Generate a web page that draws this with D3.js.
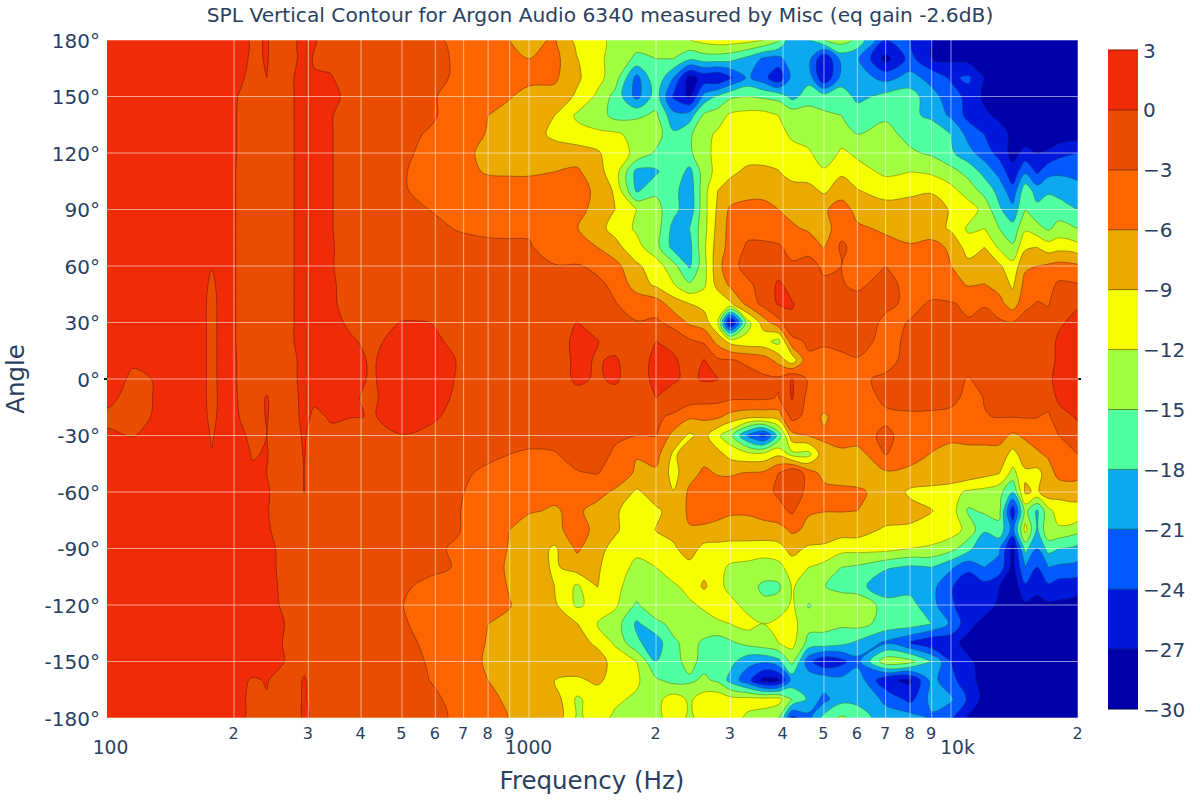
<!DOCTYPE html>
<html><head><meta charset="utf-8">
<script src="https://cdn.jsdelivr.net/npm/d3@7"></script>
<style>html,body{margin:0;background:#fff}svg{display:block}text{font-family:"DejaVu Sans",Verdana,sans-serif;fill:#2a3f5f}</style>
</head><body><div id="chart"></div>
<script>
const chartTitle = "SPL Vertical Contour for Argon Audio 6340 measured by Misc (eq gain -2.6dB)";
const xTitle = "Frequency (Hz)";
const yTitle = "Angle";
const frequencies = [100,115,130,160,177,190,204,221,239,258,280,293,310,340,380,434,500,580,680,800,900,1000,
  1150,1300,1450,1600,1800,2000,2200,2400,2600,2800,3000,3300,3600,3900,4200,4600,5000,5500,6000,7000,8000,9000,10000,11000,12000,13000,14000,15000,16000,17000,18000,20000];
const angles = [180,170,160,150,140,130,120,110,100,90,80,70,60,50,40,30,20,10,0,-10,-20,-30,-40,-50,-60,-70,-80,-90,-100,-110,-120,-130,-140,-150,-160,-170,-180];
const yTicks = [180,150,120,90,60,30,0,-30,-60,-90,-120,-150,-180];
const xMajorTicks = [100,1000,10000];
const xMinorTicks = [200,300,400,500,600,700,800,900,2000,3000,4000,5000,6000,7000,8000,9000,20000];
const levels = [-30,-27,-24,-21,-18,-15,-12,-9,-6,-3,0,3];
const bandColors = ["#0000aa","#0018dc","#005aff","#0ca8f0","#50ffa0","#a0ff40","#f5ff00","#ebaa00","#fd6500","#e94e00","#f02c08"];
// one row per angle (180 down to -180), one value per frequency
const spl = [
[2,2,2,2,2,1.5,0.8,-0.3,0.1,-0.8,-0.1,0.4,0.1,-0.6,-1,-1.5,-1.8,-2.5,-3.5,-4.5,-6,-6.5, -5.8,-10,-11,-13,-14,-14,-12.5,-12,-11,-10.5,-10.5,-11,-12,-14.5,-21,-18,-15,-13.5,-16,-24,-24,-27,-27.5,-28,-29,-29,-29,-29,-29,-29,-29,-29],
[2,2,2,2,2,1.5,0.7,-0.3,0.1,-0.8,-0.1,0.4,-0.1,-0.4,-1,-1.5,-1.8,-2.3,-3.3,-4.5,-5.2,-6, -5,-8.9,-11,-13.5,-15.5,-15,-15,-17.5,-16.5,-16.5,-17,-19,-21.5,-22,-19,-20,-27,-20,-20.5,-28,-23,-27,-27.5,-28,-29,-29,-29,-29,-29,-29,-29,-29],
[2,2,2,2,2,1.5,0.5,-0.6,0,-0.8,0.1,0.5,0.1,0.1,-1,-1.5,-2,-2.4,-3.3,-4.3,-5,-5.2, -5.5,-8.5,-11,-13.5,-22,-15.5,-21,-28,-26,-27,-24.5,-20.5,-23,-26.5,-20,-19,-27,-20,-19.5,-22,-20,-22,-24.5,-23.5,-27,-28,-29,-29,-29,-29,-29,-29],
[2,2,2,2,2,1.2,0,-0.8,-1,-0.8,0.1,0.6,0.5,0.4,-0.5,-1.5,-2,-2.8,-3.5,-4.5,-5.8,-7, -7,-9.5,-12.5,-16,-22,-16.5,-24.5,-27.5,-20,-17.5,-15.5,-15,-15.5,-16,-19,-16.5,-16.5,-16,-19,-17,-16.5,-20,-22.5,-25,-27.5,-29,-29,-29,-29,-29,-29,-29],
[2,2,2,2,2,1.2,-0.1,-1,-1.1,-0.9,0.1,0.5,0.5,0.1,-0.9,-1.5,-2,-2.6,-4,-6,-7,-7.5, -9,-12.5,-13.5,-16,-15.5,-14.5,-20,-19.5,-14.5,-13.5,-11.5,-11,-11,-12,-13,-13.5,-14.5,-15,-16,-15.5,-17,-19,-21.5,-25,-26.5,-27.5,-29,-29,-29,-29,-29,-29],
[2,2,2,2,2,1.2,-0.1,-1,-1.1,-0.9,0.1,0.5,0.5,0.1,-1,-1.7,-2.4,-3.2,-4.5,-6.2,-7.5,-8, -9.5,-11,-11.5,-11.5,-13,-13.5,-17.5,-15.5,-13,-11.5,-10.5,-10,-10,-11,-12.5,-13.5,-15,-13.5,-15,-14,-16,-15,-18,-22,-24,-26,-27.5,-29,-29,-29,-29,-29],
[2,2,2,2,2,1.2,-0.1,-1,-1.1,-0.9,0.1,0.5,0.3,0.1,-1,-1.8,-2.6,-3.5,-5,-6.8,-7.5,-8, -8,-7.5,-8.5,-11,-12.5,-15.5,-16.5,-15.5,-13,-11,-10,-10,-10,-10,-11,-11.5,-14,-11.5,-12.5,-13,-14.5,-15.5,-17.5,-20,-22.5,-25,-28,-26,-27,-26.5,-25,-24],
[2,2,2,2,2,1.2,-0.2,-1,-1,-0.9,0.1,0.5,0.4,0.1,-1,-1.9,-2.8,-3.8,-5.3,-6.2,-6.3,-6.3, -6,-5.5,-8,-10.5,-19,-18.5,-15.5,-19,-13.5,-11,-9.5,-8.5,-8.5,-8.9,-10,-10.5,-11.5,-9.5,-11,-12.5,-12,-12.5,-14,-16,-19,-22,-26,-21.5,-24.5,-22,-21.5,-22],
[2,2,2,2,2,1.2,-0.2,-1,-1,-0.9,0.1,0.5,0.3,0.1,-1,-1.9,-2.8,-3.6,-4.5,-5,-5,-5, -5,-5,-6.5,-9.5,-18.5,-15.5,-17,-20,-13,-9,-8,-7.5,-7,-7.5,-8,-8,-9.5,-7.5,-8.8,-10.5,-10,-9.5,-11,-13.5,-16,-19,-23,-16,-19.5,-18.5,-19,-20],
[2,2,2,2,2,1.2,-0.2,-0.9,-1,-0.9,0.1,0.5,0.3,0.1,-1,-1.8,-2.5,-3,-4,-4.2,-4.3,-4.2, -5,-5,-7,-9,-12,-14,-17,-20,-13,-8.5,-5.5,-4.5,-5,-6,-7,-7.5,-6.5,-4.5,-7,-7.5,-7,-6.5,-9.5,-10.5,-13,-17.5,-20,-15,-17,-16,-16.5,-18],
[2,2,2,2,2,1.2,-0.2,-1,-1,-0.9,0.1,0.4,0.3,0.1,-1,-1.6,-2.2,-2.6,-3.1,-3.5,-3.6,-3.6, -5,-5.9,-8,-10,-12.5,-13.5,-19,-18,-13,-8,-5,-4,-4,-4,-5.5,-6.5,-7.5,-4,-5.5,-6.5,-8,-7.5,-9.5,-12.5,-12,-15,-17,-12.5,-14,-15.5,-14,-15],
[2,2,2,2,1,1.2,-0.2,-1,-1,-0.9,0.1,0.4,0.3,0.15,-0.8,-1.4,-2,-2.2,-2.5,-2.5,-2.5,-2.6, -5,-5,-6,-8,-11,-14,-19,-19,-12.5,-7.5,-5,-2.5,-2.5,-2.8,-3.5,-4,-6.2,-2.5,-4,-5,-5.5,-5,-6.5,-10.5,-9,-12.5,-14.5,-9.5,-9,-10.5,-10,-11],
[2,2,2,2,0.1,1.2,-0.2,-0.9,-1,-0.9,0.1,0.5,0.4,0.1,-0.7,-1.2,-1.7,-2,-2.2,-2.3,-2.3,-2.4, -2.8,-2.8,-3.5,-5,-8.5,-10.5,-14,-18.5,-13,-7,-4,-2,-1.5,-1.5,-2.8,-2,-3.5,-3,-3.2,-3,-4.5,-5,-6,-8,-8,-8.5,-11,-6.5,-6,-5.5,-5,-5.5],
[2,2,2,2,-0.5,1.2,-0.2,-0.8,-0.9,-0.8,0.1,0.5,0.4,0.2,-0.6,-1,-1.4,-1.7,-2,-2.1,-2.1,-2.2, -1.5,-2,-2.5,-3.5,-7.5,-9.5,-11.8,-14.5,-12.5,-8,-5.5,-3.5,-2,0.5,-1,-2,-2.5,-2.8,-3.5,-2,-4,-3.8,-5,-6.2,-5.9,-7,-9.5,-5,-4.5,-4,-2.5,-2.8],
[2,2,2,2,-0.8,1.2,-0.2,-0.7,-0.8,-0.8,0.1,0.5,0.5,0.2,-0.5,-0.8,-1.2,-1.5,-1.8,-1.9,-1.9,-2, -2,-1.5,-2,-2.9,-4,-4.5,-7.5,-9,-10,-11.5,-9.5,-5,-2,0.3,0.2,-1.5,-2,-2,-2,-2.5,-3.5,-2.8,-2.8,-3.5,-3.2,-5,-7.5,-4,-2.8,-3.2,-1.5,-0.5],
[2,2,2,2,-0.8,1.2,-0.2,-0.7,-0.8,-0.8,0.1,0.5,0.5,0.3,-0.2,-0.7,0.1,0.05,-1.2,-1.6,-1.8,-1.9, -1,0.05,-1,-2,-2.9,-2.5,-4,-6.5,-7.5,-12,-29,-13,-7.5,-4,-0.5,-1.5,-1.5,-1.8,-1.5,-3.5,-2.9,-2,-2,-2.8,-2.2,-2.5,-2.9,-1.5,-1.5,-2,-0.5,1],
[2,2,2,2,-0.8,1.2,-0.2,-0.7,-0.8,-0.8,0.1,0.5,0.5,0.3,0.1,-0.3,0.8,0.8,-0.8,-1.5,-1.7,-1.8, -1,0.5,0.1,-1,-2,0,-1,-2.5,-3.5,-7,-10,-11,-11,-13,-4,-2.5,-2.8,-2,-2,-3.8,-2.5,-2,-2,-2.9,-1.8,-1.5,-1.2,-1,-1.2,-1.2,0.5,1.5],
[2,0.4,1.5,2,-0.8,1.2,-0.1,-0.7,-0.8,-0.8,-0.1,0.5,0.4,0.3,0.03,-0.02,1,1,-0.1,-1.5,-1.6,-1.7, -1.5,0.6,-0.2,0.3,-1.5,0.8,0.5,-1.5,0.1,-2.5,-2.8,-3.5,-4.5,-7,-11,-3.5,-3.5,-3.8,-3.2,-4,-2,-1.8,-1.8,-1.8,-1.5,-1.2,-1.2,-1.2,-1.2,-1,0.5,2],
[1.5,-0.5,0.1,2,-0.8,1.2,-0.1,-0.7,-0.6,-0.8,-0.1,0.5,0.3,0.3,0.03,-0.02,1.2,1.2,-0.2,-1.6,-1.6,-1.7, -1.5,0.5,-0.3,0.4,-1.5,0.8,0.3,-0.5,0.3,0.1,-1.5,-2,-2.5,-2.5,0.2,-3.5,-3.5,-4,-3.5,-2.5,-2,-2.9,-2,-3.2,-1.8,-1.5,-1.3,-1.2,-1.2,-1,1.5,2.5],
[0.6,-0.8,0.1,2,-0.8,1,0,-0.8,0.1,-0.8,-0.2,0.4,0.2,0.2,0.05,-0.1,1,1,-0.4,-1.6,-1.7,-1.7, -1.5,-1,0,-1,-1.8,0,-1,-1.5,-1.8,-2,-2.5,-2.5,-2.5,-3.2,0.2,-4,-4,-4,-4.3,-2.5,-1.8,-2,-2,-4,-2.9,-1.8,-1.5,-1.3,-1.5,-1.5,0.5,1.5],
[-0.5,-0.8,0.2,2,-0.6,1,0.1,-0.8,0.1,-0.8,-0.2,0.3,-0.2,0.1,0.02,-0.02,0.8,0.5,-0.8,-1.7,-1.8,-1.8, -1.5,-2,-2,-2,-2.2,-2.5,-3.5,-5.5,-5.5,-5.5,-7,-8,-8,-7.5,-2,-4,-6.5,-4.5,-4,-3.5,-3.5,-3.5,-4,-4.5,-3.1,-2.9,-2.9,-2.8,-2.9,-3.5,-1,0.3],
[0.3,-0.1,0.6,2,-0.2,1,0.5,-0.4,0,-0.8,-0.2,0.1,-0.4,-0.2,-0.4,-0.6,-0.05,-0.6,-1.5,-2,-2.1,-2, -2,-2.2,-2.5,-2.8,-3,-2.9,-7,-9.5,-8,-11.5,-14,-21.5,-25,-17,-7,-5.9,-5.5,-4,-4,-2.5,-4,-4.5,-5,-5,-5.5,-5,-6.5,-5.5,-4.5,-5.5,-3,-1],
[2,2,2,2,0.1,1.2,0.8,-0.1,0.1,-0.9,-0.6,0.1,-0.8,-1,-1.2,-1.5,-1.7,-1.9,-2.4,-2.7,-3,-3.4, -3.2,-2,-2.5,-3.2,-5.8,-5,-9.5,-7.5,-7,-8,-10,-11,-11,-9.5,-13,-13,-7,-7,-7.5,-2.9,-4.5,-6.2,-7.5,-7,-6.5,-7,-10,-7.5,-6.5,-5.5,-3.5,-3],
[2,2,2,2,2,1.5,1,0.2,0,-0.8,-0.7,0,-1,-1.2,-1.5,-1.8,-2,-2.4,-2.7,-3.3,-3.8,-4, -3.5,-3.2,-2.9,-4,-6.5,-6.5,-10,-7,-5.5,-6.2,-6.3,-5.8,-5.5,-3,0,-4.5,-7,-7,-7.5,-6.5,-7,-7,-6.5,-7,-8,-8.9,-13,-9.5,-10,-7.5,-5,-4.5],
[2,2,2,2,2,1.5,1.2,0.8,0.2,-0.7,-0.8,0.05,-1,-1.3,-1.7,-2,-2.2,-2.6,-2.8,-3.8,-4.2,-4.5, -5.5,-5,-5,-6.5,-9.5,-7.5,-8.9,-5.5,-4.5,-4.5,-4.5,-4,-4,-2.5,0,-4.5,-5,-5.5,-5.5,-7,-9.5,-10,-11,-12.5,-13,-14,-18,-8.5,-9.5,-7,-8,-8.5],
[2,2,2,2,2,1.5,1.2,1,0.1,-0.6,-0.8,-0.8,-1.1,-1.4,-1.8,-2.1,-2.3,-2.6,-2.9,-4.2,-5.5,-5.8, -6.2,-5.5,-7,-8.5,-11,-9.5,-8,-5.5,-4.8,-5,-5.5,-5.5,-5,-4,-2.5,-5.8,-5.9,-5.9,-6,-7,-8,-8.9,-10.5,-15.5,-14.5,-14,-26,-14,-18.5,-13,-10.5,-9.5],
[2,2,2,2,2,1.5,1.2,1,0.2,-0.5,-0.8,-0.9,-1.1,-1.4,-1.8,-2.1,-2.4,-2.7,-2.9,-4.3,-6,-7, -6.5,-5.2,-6.5,-8.5,-11,-8.9,-8,-6.2,-6.5,-7,-7.5,-7.5,-7,-7,-5.5,-6.5,-7.5,-7.5,-7.5,-9.5,-9.5,-10,-10.5,-13,-17.5,-16,-22,-11,-18.5,-12.5,-12.5,-14],
[2,2,2,2,2,1.5,1.2,1.2,0.5,-0.3,-0.9,-0.9,-1.1,-1.4,-1.8,-2.2,-2.4,-2.7,-3.2,-4.5,-6.2,-7, -9.5,-5.5,-8,-10,-11.5,-10,-9.5,-7.5,-10,-10,-10,-10,-10.5,-10,-8,-9.5,-9.5,-11,-11,-11,-12,-12.5,-14,-17,-21,-20.5,-28,-17,-21,-17,-18,-19],
[2,2,2,2,2,1.5,1.2,1.2,0.6,-0.3,-0.9,-0.9,-1.1,-1.4,-1.8,-2.2,-2.5,-2.7,-3.1,-4.6,-6.5,-7, -9.5,-7.5,-8.5,-11,-12.5,-12,-10,-10,-10,-11,-12.5,-13,-13.5,-13,-10.5,-12,-13,-15,-15.5,-17.5,-18.5,-18,-20.5,-23,-21,-22,-28,-21,-24,-21,-21.5,-22],
[2,2,2,2,2,1.5,1.2,1.2,0.7,-0.2,-0.9,-1,-1.1,-1.4,-1.8,-2.2,-2.8,-3.3,-3,-4.7,-6.2,-7, -9,-12.5,-8.9,-11.5,-13,-12.5,-12.5,-11,-8.5,-11,-13,-14,-15.5,-15.5,-11.8,-13,-14.9,-16,-16.5,-21,-19,-20,-23.5,-26.9,-25,-26.9,-29,-24.5,-26,-24.5,-25.5,-26],
[2,2,2,2,2,1.5,1.2,1.2,0.8,-0.1,-0.9,-1,-1.1,-1.4,-1.8,-2.4,-2.95,-3.8,-4.2,-4.8,-5.9,-7, -8.5,-12.5,-11,-11.5,-15.5,-12.2,-13.5,-12.5,-11.5,-10.5,-11,-13,-14.5,-14,-11.5,-15.2,-14,-13,-13,-16,-17,-20,-23.5,-26,-25.5,-27.5,-29,-27.5,-28,-27.5,-27.5,-28],
[2,2,2,2,2,1.5,1.2,1.2,0.9,0.3,-0.9,-1,-1.1,-1.4,-1.8,-2.3,-2.8,-3.6,-4.3,-6,-6.4,-7, -8,-8.9,-12,-13.5,-18.5,-16,-14,-13.5,-13.2,-12.5,-12,-11,-12,-11,-11,-14,-14.2,-14.5,-14,-16,-16.5,-18,-21.5,-26,-28,-29,-29,-29,-29,-29,-29,-29],
[2,2,2,2,2,1.5,1.2,1.2,1,0.1,-0.8,-1,-1.1,-1.4,-1.8,-2.2,-2.6,-3.3,-4.2,-6.2,-7,-7.5, -7.5,-8,-9.5,-12.5,-17.5,-19.5,-15.5,-14,-15.5,-16.5,-15.5,-14,-13,-12,-11,-16,-16,-17,-18.5,-21.5,-24,-26.5,-26,-28,-29,-29,-29,-29,-29,-29,-29,-29],
[2,2,2,2,2,1.5,1.2,1.2,1,0.2,-0.6,-1,-1.1,-1.4,-1.8,-2.1,-2.5,-3.1,-4,-6.5,-7,-7.5, -7,-7,-7.8,-10,-12,-18,-16,-14,-16,-17,-17,-20,-20.5,-19,-14,-23,-26.5,-25,-22,-13,-14,-18,-24,-26.5,-28,-29,-29,-29,-29,-29,-29,-29],
[2,2,2,2,2,1.5,0.6,-0.2,0.1,-0.5,-1,0.3,-1,-1.4,-1.8,-2,-2.4,-3,-4,-6,-7,-7.5, -9,-9.5,-8.5,-10,-11.5,-14.5,-16,-15.5,-14.5,-15.5,-19,-23,-28,-27.5,-20,-19,-19,-20,-19,-26.5,-27.5,-20,-23,-26,-28,-29,-29,-29,-29,-29,-29,-29],
[2,2,2,2,2,1.5,0.6,-0.5,-0.1,-0.7,-1,0.4,-1,-1.4,-1.8,-2,-2.3,-2.6,-3.5,-4.7,-7,-7.5, -7.5,-12.5,-10.5,-11.5,-12.5,-13,-10.5,-12.5,-10.5,-10,-11,-11,-11,-11,-15,-18.5,-22,-19,-19,-21.5,-25,-20,-20.5,-24.5,-28,-29,-29,-29,-29,-29,-29,-29],
[2,2,2,2,2,1.5,0.6,-0.6,-0.2,-0.8,-1,0.4,-0.5,-1.2,-1.8,-2,-2.2,-2.5,-3.3,-4.5,-6.2,-7, -7,-12.5,-11,-12.5,-13,-13,-10.5,-12.5,-11,-11,-11,-12.5,-13,-14.5,-25,-22,-17,-14.5,-16,-20,-19.5,-21.5,-23.5,-27.5,-29,-29,-29,-29,-29,-29,-29,-29]
];
spl.forEach((r,i)=>{ if(r.length!==frequencies.length) throw new Error("row "+i+" has "+r.length); });
if(spl.length!==angles.length) throw new Error("rows "+spl.length);

const W=1200,H=800,L=107,R=1078,T=40,B=718;
const x=d3.scaleLog().domain([100,20000]).range([L,R]);
const y=d3.scaleLinear().domain([-180,180]).range([B,T]);
const svg=d3.select("#chart").append("svg").attr("width",W).attr("height",H);

svg.append("line").attr("x1",L-3).attr("x2",R+3).attr("y1",y(0)).attr("y2",y(0)).attr("stroke","#111").attr("stroke-width",2);
svg.append("clipPath").attr("id","plot").append("rect").attr("x",L).attr("y",T).attr("width",R-L).attr("height",B-T);
const plot=svg.append("g").attr("clip-path","url(#plot)");
plot.append("rect").attr("x",L).attr("y",T).attr("width",R-L).attr("height",B-T).attr("fill",bandColors[0]);

// grid index -> pixel, through the data scales
const colPx=d3.scaleLinear().domain(frequencies.map((_,i)=>i)).range(frequencies.map(f=>x(f)));
const rowPx=d3.scaleLinear().domain(angles.map((_,i)=>i)).range(angles.map(a=>y(a)));
const nx=frequencies.length, ny=angles.length;
const px=v=> v<=0 ? L-6 : v>=nx ? R+6 : colPx(Math.max(0,Math.min(nx-1,v-0.5)));
const py=v=> v<=0 ? T-6 : v>=ny ? B+6 : rowPx(Math.max(0,Math.min(ny-1,v-0.5)));
const ringLine=d3.line().curve(d3.curveCatmullRomClosed.alpha(0.5));
const shapePath=s=>s.coordinates.flatMap(poly=>poly.map(ring=>ringLine(ring.slice(0,-1).map(([a,b])=>[px(a),py(b)])))).join("");
const thresholds=levels.slice(1,-1);
const flat=spl.flat();
const shapes=d3.contours().size([nx,ny]).smooth(true).thresholds(thresholds)(flat);
plot.selectAll("path.band").data(shapes).join("path").attr("class","band")
  .attr("d",shapePath)
  .attr("fill-rule","evenodd")
  .attr("fill",d=>bandColors[levels.indexOf(d.value)])
  .attr("stroke",d=>d3.color(bandColors[levels.indexOf(d.value)]).darker(1.6))
  .attr("stroke-width",0.7);

const grid=svg.append("g").attr("stroke","#fff").attr("stroke-opacity",0.55).attr("stroke-width",1);
grid.selectAll("line.v").data(xMajorTicks.slice(1).concat(xMinorTicks)).join("line").attr("class","v")
  .attr("x1",d=>Math.min(x(d),R)).attr("x2",d=>Math.min(x(d),R)).attr("y1",T).attr("y2",B);
grid.selectAll("line.h").data(yTicks).join("line").attr("class","h")
  .attr("x1",L).attr("x2",R).attr("y1",d=>y(d)).attr("y2",d=>y(d));

const yAxis=d3.axisLeft(y).tickValues(yTicks).tickFormat(d=>d+"°").tickSize(0).tickPadding(7);
const yG=svg.append("g").attr("transform",`translate(${L},0)`).call(yAxis);
yG.select(".domain").remove();
yG.selectAll("text").attr("font-size",20).attr("dy","0.35em").attr("fill","#2a3f5f");

const xAxisMajor=d3.axisBottom(x).tickValues(xMajorTicks).tickFormat(d=>d===10000?"10k":String(d)).tickSize(0).tickPadding(0);
const xM=svg.append("g").attr("transform",`translate(0,${B})`).call(xAxisMajor);
xM.select(".domain").remove();
xM.selectAll("text").attr("font-size",18.7).attr("y",36).attr("dy",0).attr("dx",d=>d===100?3:d===10000?6:-1).attr("fill","#2a3f5f");
const xAxisMinor=d3.axisBottom(x).tickValues(xMinorTicks).tickFormat(d=>String(d).charAt(0)).tickSize(0).tickPadding(0);
const xm=svg.append("g").attr("transform",`translate(0,${B})`).call(xAxisMinor);
xm.select(".domain").remove();
xm.selectAll("text").attr("font-size",16).attr("y",21).attr("dy",0).attr("dx",-1).attr("fill","#2a3f5f");

svg.append("text").attr("x",600).attr("y",22).attr("text-anchor","middle").attr("font-size",20.2).text(chartTitle);
svg.append("text").attr("x",592).attr("y",789).attr("text-anchor","middle").attr("font-size",24.5).text(xTitle);
svg.append("text").attr("transform","translate(24,379) rotate(-90)").attr("text-anchor","middle").attr("font-size",24.5).text(yTitle);

// colour bar
const cb=d3.scaleLinear().domain([-30,3]).range([709,50]);
const cbG=svg.append("g");
cbG.selectAll("rect").data(bandColors).join("rect")
  .attr("x",1108).attr("width",30)
  .attr("y",(d,i)=>cb(levels[i+1])).attr("height",(d,i)=>cb(levels[i])-cb(levels[i+1]))
  .attr("fill",d=>d);
cbG.selectAll("line").data(levels).join("line")
  .attr("x1",1108).attr("x2",1138).attr("y1",d=>cb(d)).attr("y2",d=>cb(d))
  .attr("stroke",(d,i)=>d3.color(bandColors[Math.min(i,bandColors.length-1)]).darker(1.6)).attr("stroke-width",1);
const cbAxis=d3.axisRight(cb).tickValues(levels).tickFormat(d=>d<0?"\u2212"+(-d):d).tickSize(0).tickPadding(5);
const cbA=svg.append("g").attr("transform","translate(1138,0)").call(cbAxis);
cbA.select(".domain").remove();
cbA.selectAll("text").attr("font-size",20).attr("dy","0.35em").attr("fill","#2a3f5f");
</script></body></html>
